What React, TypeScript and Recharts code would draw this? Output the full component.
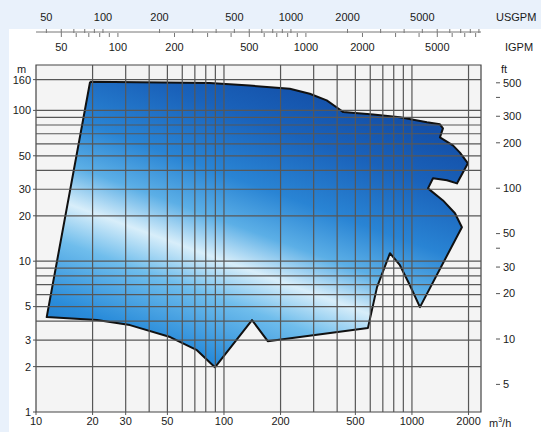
import React from 'react';
import {
  ComposedChart,
  Area,
  Line,
  XAxis,
  YAxis,
  CartesianGrid,
  ReferenceLine,
  ReferenceArea,
} from 'recharts';

// Performance range outline, m3/h vs head in m, walked clockwise from the top-left corner
const flowM3h = [
  19.4, 84, 137, 224, 286, 352, 397, 431, 621, 863, 1202, 1409, 1462, 1409, 1652, 1800, 1985,
  1735, 1535, 1294, 1217, 1462, 1694, 1844, 1103, 975, 863, 764, 652, 583, 171, 141, 89.5,
  71.8, 51.7, 31.6, 21.1, 11.4, 19.4,
];
const headM = [
  155, 152, 146, 139, 129, 116.5, 105, 97.4, 94, 90, 83.4, 80.8, 76, 66.3, 58.6, 52.5, 44.6,
  32.8, 34.4, 35.5, 30.4, 25.3, 20.8, 16.8, 4.96, 6.93, 9.41, 11.3, 6.73, 3.6, 2.95, 4.07, 1.98,
  2.57, 3.14, 3.77, 4.07, 4.26, 155,
];

const flowTicks = [10, 20, 30, 50, 100, 200, 500, 1000, 2000];
const headTicks = [1, 2, 3, 5, 10, 20, 30, 50, 100, 160];
const feetTicks = [5, 10, 20, 30, 40, 50, 100, 200, 300, 400, 500];
const feetLabels = [5, 10, 20, 30, 50, 100, 200, 300, 500];
const usgpmTicks = [
  50, 60, 70, 80, 90, 100, 200, 300, 400, 500, 600, 700, 800, 900, 1000, 2000, 3000, 4000,
  5000, 6000, 7000, 8000, 9000, 10000,
];
const igpmTicks = [
  50, 60, 70, 80, 90, 100, 200, 300, 400, 500, 600, 700, 800, 900, 1000, 2000, 3000, 4000,
  5000, 6000, 7000, 8000,
];
const gpmLabels = [50, 100, 200, 500, 1000, 2000, 5000];

const gridFlow = [20, 30, 40, 50, 60, 70, 80, 90, 100, 200, 300, 400, 500, 600, 700, 800, 900, 1000, 2000];
const gridHead = [2, 3, 4, 5, 6, 7, 8, 9, 10, 20, 30, 40, 50, 60, 70, 80, 90, 100, 160];

const FLOW_MIN = 10;
const FLOW_MAX = 2330;
const HEAD_MIN = 1;
const HEAD_MAX = 200;
const USGPM_PER_M3H = 4.403;
const IGPM_PER_M3H = 3.666;
const M_PER_FT = 0.3048;

const outline = flowM3h.map((flow, i) => ({
  flow,
  usgpm: flow * USGPM_PER_M3H,
  igpm: flow * IGPM_PER_M3H,
  head: headM[i],
}));

const tickStyle = { fill: '#1a1a1a', fontSize: 11 };

function FeetTick(props: any) {
  const { x, y, payload } = props;
  const labelled = feetLabels.includes(payload.value);
  return (
    <g>
      <line x1={x + 7} x2={x + 11} y1={y} y2={y} stroke="#555" strokeWidth={1} />
      {labelled && (
        <text x={x + 14} y={y} dy="0.35em" textAnchor="start" {...tickStyle}>
          {payload.value}
        </text>
      )}
    </g>
  );
}

function UsgpmTick(props: any) {
  const { x, payload } = props;
  const labelled = gpmLabels.includes(payload.value);
  return (
    <g>
      <line x1={x} x2={x} y1={29} y2={33} stroke="#777" strokeWidth={1} />
      {labelled && (
        <text x={x} y={17} dy="0.35em" textAnchor="middle" {...tickStyle}>
          {payload.value}
        </text>
      )}
    </g>
  );
}

// IGPM ticks hang below the shared gpm rule, labels sit further down
function IgpmTick(props: any) {
  const { x, payload } = props;
  const labelled = gpmLabels.includes(payload.value);
  return (
    <g>
      <line x1={x} x2={x} y1={33} y2={37} stroke="#777" strokeWidth={1} />
      {labelled && (
        <text x={x} y={47} dy="0.35em" textAnchor="middle" {...tickStyle}>
          {payload.value}
        </text>
      )}
    </g>
  );
}

const unitStyle: React.CSSProperties = {
  position: 'absolute',
  fontSize: 11,
  color: '#1a1a1a',
  lineHeight: '12px',
};

export default function App() {
  return (
    <div
      style={{
        position: 'absolute',
        left: 0,
        top: 0,
        width: 541,
        height: 432,
        background: '#e9f1fb',
        fontFamily: '"Liberation Sans", Arial, sans-serif',
        overflow: 'hidden',
      }}
    >
      <div style={{ position: 'absolute', left: 9, top: 29, width: 532, height: 403, background: '#ffffff' }} />
      <div style={{ position: 'absolute', left: 0, top: 0 }}>
        <ComposedChart width={541} height={432} data={outline} margin={{ top: 0, right: 10, bottom: 0, left: 0 }}>
          <defs>
            <linearGradient id="rangeFill" gradientUnits="userSpaceOnUse" x1={240} y1={60} x2={123} y2={380}>
              <stop offset="0" stopColor="#1450a8" />
              <stop offset="0.15" stopColor="#1a62ba" />
              <stop offset="0.33" stopColor="#2984d4" />
              <stop offset="0.46" stopColor="#5cafe6" />
              <stop offset="0.57" stopColor="#d8eefa" />
              <stop offset="0.68" stopColor="#6fbdec" />
              <stop offset="0.85" stopColor="#2a8cda" />
              <stop offset="1" stopColor="#1d72c4" />
            </linearGradient>
          </defs>
          <CartesianGrid horizontal={false} vertical={false} fill="#f4f4f4" />
          <XAxis
            dataKey="flow"
            type="number"
            scale="log"
            domain={[FLOW_MIN, FLOW_MAX]}
            allowDataOverflow
            ticks={flowTicks}
            interval={0}
            height={20}
            tickSize={3}
            tickMargin={2}
            axisLine={false}
            tick={tickStyle}
            stroke="#555"
          />
          <XAxis
            xAxisId="igpm"
            dataKey="igpm"
            orientation="top"
            type="number"
            scale="log"
            domain={[FLOW_MIN * IGPM_PER_M3H, FLOW_MAX * IGPM_PER_M3H]}
            allowDataOverflow
            ticks={igpmTicks}
            interval={0}
            height={33}
            axisLine={false}
            tickLine={false}
            tick={<IgpmTick />}
          />
          <XAxis
            xAxisId="usgpm"
            dataKey="usgpm"
            orientation="top"
            type="number"
            scale="log"
            domain={[FLOW_MIN * USGPM_PER_M3H, FLOW_MAX * USGPM_PER_M3H]}
            allowDataOverflow
            ticks={usgpmTicks}
            interval={0}
            height={32}
            axisLine={{ stroke: '#777' }}
            tickLine={false}
            tick={<UsgpmTick />}
          />
          <YAxis
            type="number"
            scale="log"
            domain={[HEAD_MIN, HEAD_MAX]}
            allowDataOverflow
            ticks={headTicks}
            interval={0}
            width={36}
            tickSize={3}
            tickMargin={2}
            axisLine={false}
            tick={tickStyle}
            stroke="#555"
          />
          <YAxis
            yAxisId="ft"
            orientation="right"
            type="number"
            scale="log"
            domain={[HEAD_MIN / M_PER_FT, HEAD_MAX / M_PER_FT]}
            allowDataOverflow
            ticks={feetTicks}
            interval={0}
            width={50}
            axisLine={false}
            tickLine={false}
            tick={<FeetTick />}
          />
          <Area
            dataKey="head"
            type="linear"
            fill="url(#rangeFill)"
            fillOpacity={1}
            stroke="#111"
            strokeWidth={2}
            strokeLinejoin="round"
            dot={false}
            activeDot={false}
            isAnimationActive={false}
          />
          {/* invisible carriers so the gpm scales get their own domains */}
          <Line xAxisId="usgpm" dataKey="head" stroke="none" dot={false} activeDot={false} isAnimationActive={false} />
          <Line xAxisId="igpm" dataKey="head" stroke="none" dot={false} activeDot={false} isAnimationActive={false} />
          {gridFlow.map((v) => (
            <ReferenceLine key={`vx-${v}`} x={v} stroke="#575757" strokeWidth={1.2} />
          ))}
          {gridHead.map((v) => (
            <ReferenceLine key={`hy-${v}`} y={v} stroke="#575757" strokeWidth={1.2} />
          ))}
          <ReferenceArea
            x1={FLOW_MIN}
            x2={FLOW_MAX}
            y1={HEAD_MIN}
            y2={HEAD_MAX}
            fill="none"
            fillOpacity={0}
            stroke="#444"
            strokeWidth={1.2}
          />
        </ComposedChart>
      </div>
      <span style={{ ...unitStyle, left: 496, top: 11 }}>USGPM</span>
      <span style={{ ...unitStyle, left: 505, top: 41 }}>IGPM</span>
      <span style={{ ...unitStyle, left: 17, top: 63 }}>m</span>
      <span style={{ ...unitStyle, left: 501, top: 63 }}>ft</span>
      <span style={{ ...unitStyle, left: 489, top: 417 }}>
        m<sup style={{ fontSize: 7, lineHeight: 0 }}>3</sup>/h
      </span>
    </div>
  );
}
